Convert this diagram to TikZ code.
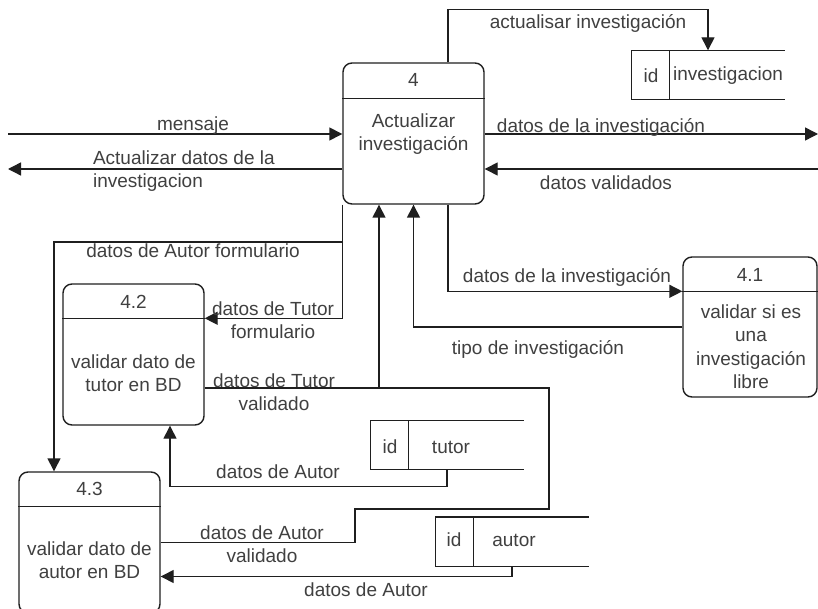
\documentclass[tikz,border=0pt]{standalone}
\usepackage{fontspec}
\setmainfont{Liberation Sans}
\usetikzlibrary{arrows.meta}
\tikzset{
  proc/.style={draw, rounded corners=9pt, minimum width=141pt, minimum height=141pt, inner sep=0pt},
  store/.style={minimum width=152pt, minimum height=48pt, inner sep=0pt},
  flow/.style={-{Triangle[length=13pt,width=13pt]}},
}
\begin{document}
\begin{tikzpicture}[x=1pt,y=-1pt,line width=1.4pt,color=black!88,text=black!75,
    font=\fontsize{19}{23.5}\selectfont]
\path[use as bounding box,fill=white] (0,0) rectangle (818,609);
\clip (0,0) rectangle (818,609);
% processes
\node[proc] (p4) at (413.5,133.5) {};
\node[proc, minimum width=134pt, minimum height=140pt] (p41) at (750,327) {};
\node[proc] (p42) at (133.5,354.5) {};
\node[proc] (p43) at (89.5,542.5) {};
\foreach \p/\d in {p4/36,p41/35,p42/35,p43/35}
  \draw ([yshift=-\d pt]\p.north west) -- ([yshift=-\d pt]\p.north east);
\node (n4) at (413.5,80) {4};
\node (n41) at (750,275) {4.1};
\node (n42) at (133.5,302) {4.2};
\node (n43) at (89.5,489) {4.3};
\node[align=center] (t4) at (413.5,134) {Actualizar\\investigación};
\node[align=center] (t41) at (751,346.5) {validar si es\\una\\investigación\\libre};
\node[align=center] (t42) at (133.5,373) {validar dato de\\tutor en BD};
\node[align=center] (t43) at (89.5,560) {validar dato de\\autor en BD};
% stores
\node[store] (sInv) at (708,75) {};
\node[store] (sTut) at (447,445) {};
\node[store] (sAut) at (512,541.5) {};
\foreach \s in {sInv,sTut,sAut}{
  \draw (\s.north east) -- (\s.north west) -- (\s.south west) -- (\s.south east);
  \draw ([xshift=38pt]\s.north west) -- ([xshift=38pt]\s.south west);
}
\node (iInv) at (651,76) {id};
\node (lInv) at (728,76) {investigacion};
\node (iTut) at (390,447) {id};
\node (lTut) at (451,447) {tutor};
\node (iAut) at (454,540) {id};
\node (lAut) at (514,540) {autor};
% flows
\coordinate (in1) at (8,134);
\coordinate (out1) at (8,169);
\coordinate (out2) at (818,134);
\coordinate (in2) at (818,169);
\coordinate (j1) at (343,242);
\coordinate (j2) at (379,388);
\draw[flow] (in1) -- (in1 -| p4.west);
\draw[flow] (out1 -| p4.west) -- (out1);
\draw[flow] (p4.east |- out2) -- (out2);
\draw[flow] (in2) -- (in2 -| p4.east);
\draw[flow] ([xshift=34.5pt]p4.north) -- ++(0,-53) -| (sInv.north);
\draw[flow] ([xshift=34.5pt]p4.south) |- ([yshift=-35pt]p41.north west);
\draw[flow] (p41.west) -| (p4.south);
\draw[flow] (p4.south west) |- ([yshift=-35pt]p42.north east);
\draw[flow] (j1) -| ([xshift=-35.5pt]p43.north);
\draw[flow] (p42.east |- j2) -| ([xshift=-34.5pt]p4.south);
\draw (p43.east) -| (355,509) -| (549,388) -- (j2);
\draw[flow] (sTut.south) -- ++(0,17) -| ([xshift=36.5pt]p42.south);
\draw[flow] (sAut.south) |- ([yshift=-34pt]p43.east);
% labels
\node (lMsg) at (193,126) {mensaje};
\node[align=left, anchor=west] (lAct) at (89,171) {Actualizar datos de la\\investigacion};
\node (lDat1) at (601,127) {datos de la investigación};
\node (lVal) at (606,183) {datos validados};
\node (lUpd) at (588,23) {actualisar investigación};
\node (lDat2) at (567,277) {datos de la investigación};
\node (lTipo) at (538,349) {tipo de investigación};
\node (lAF) at (193,251) {datos de Autor formulario};
\node[align=center] (lTF) at (273,320) {datos de Tutor\\formulario};
\node[align=center] (lTV) at (274,392) {datos de Tutor\\validado};
\node (lA1) at (278,472) {datos de Autor};
\node[align=center] (lAV) at (262,544) {datos de Autor\\validado};
\node (lA2) at (366,590) {datos de Autor};
\end{tikzpicture}
\end{document}
